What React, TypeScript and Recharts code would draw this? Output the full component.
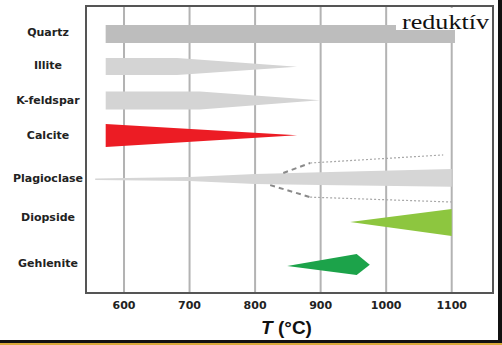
import React from 'react';
import { ComposedChart, Area, Line, XAxis, YAxis, CartesianGrid, ReferenceArea } from 'recharts';

const minerals = ['Quartz', 'Illite', 'K-feldspar', 'Calcite', 'Plagioclase', 'Diopside', 'Gehlenite'];
const labelPositions = [9.06, 20.56, 32.75, 44.95, 59.93, 73.52, 89.55];
const temperatureTicks = [600, 700, 800, 900, 1000, 1100];
const temperatureDomain = [542, 1163];

const quartz = [
  { t: 572, r: [6.62, 12.9] },
  { t: 1105, r: [6.62, 12.9] },
];
const illite = [
  { t: 572, r: [18.12, 24.04] },
  { t: 681, r: [18.12, 24.04] },
  { t: 864, r: [21.2, 21.2] },
];
const kFeldspar = [
  { t: 572, r: [29.79, 36.07] },
  { t: 716, r: [29.79, 36.07] },
  { t: 899, r: [32.8, 32.8] },
];
const calcite = [
  { t: 572, r: [41.12, 49.12] },
  { t: 864, r: [45.0, 45.0] },
];
const plagioclase = [
  { t: 556, r: [60.14, 60.66] },
  { t: 700, r: [59.6, 61.0] },
  { t: 800, r: [58.5, 62.0] },
  { t: 900, r: [57.9, 62.4] },
  { t: 1100, r: [56.8, 63.0] },
];
const plagUpperDashed = [
  { t: 843, y: 58.2 },
  { t: 884, y: 54.7 },
];
const plagUpperDotted = [
  { t: 884, y: 54.7 },
  { t: 1087, y: 51.9 },
];
const plagLowerDashed = [
  { t: 823, y: 62.4 },
  { t: 884, y: 66.6 },
];
const plagLowerDotted = [
  { t: 884, y: 66.6 },
  { t: 1100, y: 68.3 },
];
const diopside = [
  { t: 945, r: [75.3, 75.3] },
  { t: 1100, r: [70.7, 80.1] },
];
const gehlenite = [
  { t: 849, r: [90.6, 90.6] },
  { t: 955, r: [86.4, 93.7] },
  { t: 975, r: [90.2, 90.2] },
];

const MineralTick = (props: any) => {
  const { x, y, payload } = props;
  const idx = labelPositions.indexOf(payload.value);
  return (
    <text
      x={x - 30}
      y={y + 4}
      textAnchor="middle"
      fontFamily="DejaVu Sans"
      fontWeight="bold"
      fontSize={11}
      fill="#222"
    >
      {minerals[idx]}
    </text>
  );
};

const AxisTitle = (props: any) => {
  const { viewBox } = props;
  const cx = viewBox.x + viewBox.width / 2 - 3;
  return (
    <text x={cx} y={viewBox.y + 41} textAnchor="middle" fontFamily="Liberation Sans" fontWeight="bold" fontSize={19} fill="#111">
      <tspan fontStyle="italic">T</tspan> (°C)
    </text>
  );
};

const areaProps = {
  type: 'linear' as const,
  dataKey: 'r',
  stroke: 'none',
  fillOpacity: 1,
  dot: false,
  activeDot: false,
  isAnimationActive: false,
};

export default function App() {
  return (
    <div style={{ position: 'absolute', left: 0, top: 0, width: 502, height: 345, background: '#fff', overflow: 'hidden' }}>
      <ComposedChart width={502} height={345} margin={{ top: 6, right: 9, left: 0, bottom: 0 }}>
        <CartesianGrid horizontal={false} stroke="#b3b3b3" strokeWidth={2} />
        <XAxis
          type="number"
          dataKey="t"
          domain={temperatureDomain}
          ticks={temperatureTicks}
          allowDataOverflow
          axisLine={false}
          tickLine={false}
          height={52}
          tick={{ fontFamily: 'DejaVu Sans', fontWeight: 'bold', fontSize: 11, fill: '#222' }}
          label={<AxisTitle />}
        />
        <YAxis
          type="number"
          domain={[0, 100]}
          reversed
          ticks={labelPositions}
          allowDataOverflow
          axisLine={false}
          tickLine={false}
          width={86}
          tick={<MineralTick />}
        />
        <Area {...areaProps} data={quartz} fill="#bdbdbd" />
        <Area {...areaProps} data={illite} fill="#d4d4d4" />
        <Area {...areaProps} data={kFeldspar} fill="#d4d4d4" />
        <Area {...areaProps} data={calcite} fill="#ec1c24" />
        <Area {...areaProps} data={plagioclase} fill="#d6d6d6" />
        <Area {...areaProps} data={diopside} fill="#8dc63f" />
        <Area {...areaProps} data={gehlenite} fill="#1ca34a" />
        <Line data={plagUpperDashed} dataKey="y" type="linear" stroke="#8a8a8a" strokeWidth={2} strokeDasharray="5 4" dot={false} activeDot={false} isAnimationActive={false} />
        <Line data={plagLowerDashed} dataKey="y" type="linear" stroke="#8a8a8a" strokeWidth={2} strokeDasharray="5 4" dot={false} activeDot={false} isAnimationActive={false} />
        <Line data={plagUpperDotted} dataKey="y" type="linear" stroke="#a8a8a8" strokeWidth={1.2} strokeDasharray="2 2" dot={false} activeDot={false} isAnimationActive={false} />
        <Line data={plagLowerDotted} dataKey="y" type="linear" stroke="#a8a8a8" strokeWidth={1.2} strokeDasharray="2 2" dot={false} activeDot={false} isAnimationActive={false} />
        <ReferenceArea x1={542} x2={1163} y1={0} y2={100} fill="none" stroke="#555" strokeWidth={2} ifOverflow="visible" />
      </ComposedChart>
      <svg width={502} height={345} style={{ position: 'absolute', left: 0, top: 0, pointerEvents: 'none' }}>
        <rect x={396} y={8} width={95} height={22} fill="#fff" />
        <text x={402} y={29} fontFamily="Liberation Serif" fontSize={22} fill="#111" textLength={87} lengthAdjust="spacingAndGlyphs">
          reduktív
        </text>
      </svg>
      <div style={{ position: 'absolute', left: 498, top: 0, width: 4, height: 345, background: '#111' }} />
      <div style={{ position: 'absolute', left: 0, top: 340, width: 502, height: 3, background: '#111' }} />
      <div style={{ position: 'absolute', left: 0, top: 343, width: 502, height: 2, background: '#d9a93a' }} />
    </div>
  );
}
